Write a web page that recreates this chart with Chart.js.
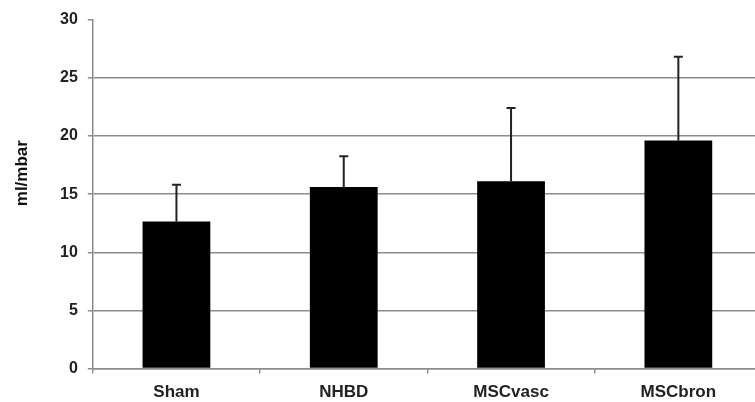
<!DOCTYPE html>
<html>
  <head>
    <title>ml/mbar</title>
    <script src="https://cdn.jsdelivr.net/npm/chart.js@4/dist/chart.umd.min.js"></script>
    <style>
    body{
    	margin: 0;
    	background-color: white;
    	overflow: hidden;
    }
    .container{
    	width: 755px;
    	height: 402px;
    	overflow: hidden;
    }
  	</style>
  </head>
  <body>

    <div class='container'>
      <canvas id="chart" width="764" height="402"></canvas>
    </div>

  <script type="text/javascript">

  var groups = ["Sham", "NHBD", "MSCvasc", "MSCbron"];
  var means = [12.65, 15.6, 16.1, 19.6];
  var errors = [3.15, 2.65, 6.3, 7.2];
  var yTicks = [0, 5, 10, 15, 20, 25, 30];
  var yTitle = 'ml/mbar';

  var gridGrey = '#8c8c8c';

  // upper error whiskers, placed through the y scale
  var errorBars = {
      id: 'errorBars',
      afterDatasetsDraw: function (chart) {
          var ctx = chart.ctx;
          var yScale = chart.scales.y;
          var bars = chart.getDatasetMeta(0).data;
          ctx.save();
          ctx.strokeStyle = '#222';
          ctx.lineWidth = 2;
          bars.forEach(function (bar, i) {
              var top = yScale.getPixelForValue(means[i] + errors[i]);
              ctx.beginPath();
              ctx.moveTo(bar.x, bar.y);
              ctx.lineTo(bar.x, top);
              ctx.moveTo(bar.x - 4.5, top);
              ctx.lineTo(bar.x + 4.5, top);
              ctx.stroke();
          });
          ctx.restore();
      }
  };

  // the axis title sits a bit above the middle of the plot
  var sideTitle = {
      id: 'sideTitle',
      afterDraw: function (chart) {
          var ctx = chart.ctx;
          var area = chart.chartArea;
          ctx.save();
          ctx.translate(22, area.top + area.height * 0.44);
          ctx.rotate(-Math.PI / 2);
          ctx.textAlign = 'center';
          ctx.textBaseline = 'middle';
          ctx.fillStyle = '#111';
          ctx.font = 'bold 17px "Liberation Sans"';
          ctx.fillText(yTitle, 0, 0);
          ctx.restore();
      }
  };

  new Chart(document.getElementById("chart"), {
      type: 'bar',
      data: {
          labels: groups,
          datasets: [{
              data: means,
              backgroundColor: '#000',
              borderWidth: 0,
              categoryPercentage: 1,
              barPercentage: 0.405
          }]
      },
      options: {
          responsive: false,
          animation: false,
          layout: { padding: { top: 13, right: 2, bottom: -10, left: 50 } },
          plugins: { legend: { display: false }, tooltip: { enabled: false } },
          scales: {
              x: {
                  grid: {
                      drawOnChartArea: false,
                      tickLength: 5,
                      color: gridGrey,
                      lineWidth: 1.5
                  },
                  border: { color: gridGrey, width: 1.5 },
                  ticks: {
                      color: '#222',
                      padding: 9,
                      font: { family: 'Liberation Sans', size: 17, weight: 'bold' }
                  }
              },
              y: {
                  min: 0,
                  max: 30,
                  afterBuildTicks: function (axis) {
                      axis.ticks = yTicks.map(function (v) { return { value: v }; });
                  },
                  grid: {
                      color: function (c) { return c.tick && c.tick.value === 30 ? 'rgba(0,0,0,0)' : gridGrey; },
                      tickColor: gridGrey,
                      lineWidth: 1.5,
                      tickLength: 5
                  },
                  border: { color: gridGrey, width: 1.5 },
                  ticks: {
                      color: '#222',
                      padding: 10,
                      font: { family: 'Liberation Sans', size: 16, weight: 'bold' }
                  }
              }
          }
      },
      plugins: [errorBars, sideTitle]
  });

  </script>
  </body>
</html>
